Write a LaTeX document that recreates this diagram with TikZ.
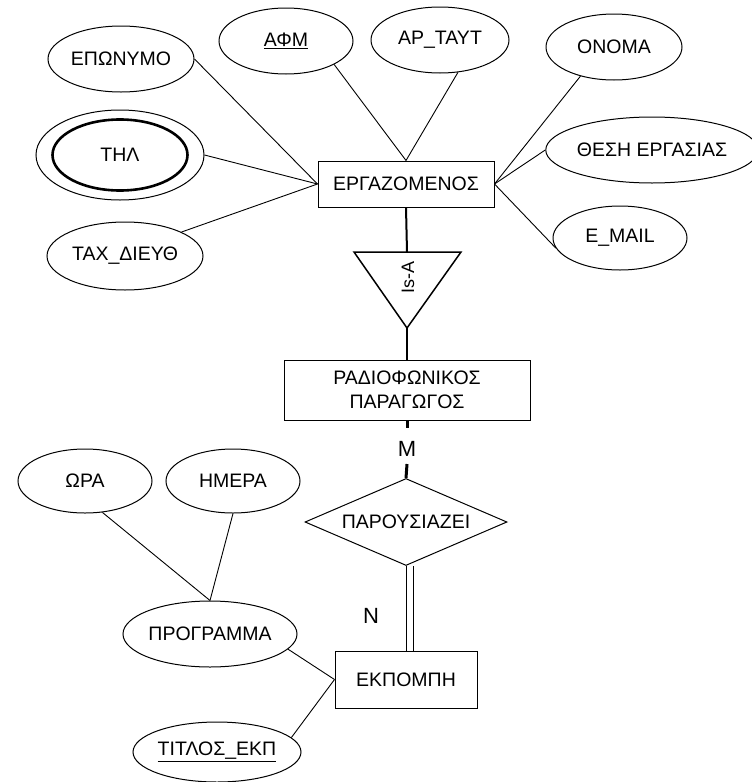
\documentclass[tikz,border=0pt]{standalone}
\usepackage{fontspec}
\setmainfont{Liberation Sans}
\usetikzlibrary{shapes.geometric}

\tikzset{
  erfont/.style={font=\fontsize{19.5}{23.5}\selectfont},
  attr/.style={ellipse, draw, line width=1pt, inner sep=0pt, erfont},
  entity/.style={rectangle, draw, line width=1pt, inner sep=0pt, erfont, align=center},
  rel/.style={diamond, draw, line width=1pt, inner sep=0pt, aspect=2.3, erfont},
  link/.style={line width=0.9pt},
  isalink/.style={line width=2pt},
  cardlink/.style={line width=3pt},
  card/.style={font=\fontsize{22}{24}\selectfont, inner sep=0pt},
}

\begin{document}
\begin{tikzpicture}[x=1pt, y=-1pt]
  \useasboundingbox (0,0) rectangle (752,782);

  % --- employee entity and its attributes ---
  \node[entity, minimum width=176, minimum height=46] (erg) at (406,184) {ΕΡΓΑΖΟΜΕΝΟΣ};

  \node[attr, minimum width=146, minimum height=66] (epon) at (121,59) {ΕΠΩΝΥΜΟ};
  \node[attr, minimum width=134, minimum height=66] (afm) at (286,41) {\underline{ΑΦΜ}};
  \node[attr, minimum width=138, minimum height=66] (artayt) at (440,40) {ΑΡ\_ΤΑΥΤ};
  \node[attr, minimum width=136, minimum height=66] (onoma) at (614,47) {ΟΝΟΜΑ};
  \node[attr, minimum width=198, minimum height=66] (thesi) at (652,150) {ΘΕΣΗ ΕΡΓΑΣΙΑΣ};
  \node[attr, minimum width=134, minimum height=64] (email) at (620,238) {E\_MAIL};
  \node[attr, minimum width=168, minimum height=90] (thl) at (120,155) {};
  \node[ellipse, draw, line width=2.6pt, inner sep=0pt, erfont,
        minimum width=135, minimum height=71] (thlin) at (120,155) {ΤΗΛ};
  \node[attr, minimum width=156, minimum height=68] (tax) at (125,256) {ΤΑΧ\_ΔΙΕΥΘ};

  \draw[link] (epon.east) -- (erg.west);
  \draw[link] (thl.east) -- (erg.west);
  \draw[link] (tax.23) -- (erg.west);
  \draw[link] (afm.-26) -- (erg.north);
  \draw[link] (artayt.-61) -- (erg.north);
  \draw[link] (onoma.-139) -- (erg.east);
  \draw[link] (thesi.west) -- (erg.east);
  \draw[link] (email.-171) -- (erg.east);

  % --- specialisation triangle ---
  \coordinate (tl) at (354,252);
  \coordinate (tr) at (461,252);
  \coordinate (ttop) at (407,252);
  \coordinate (tip) at (407,328);
  \draw[line width=1.5pt, line join=miter] (tl) -- (tr) -- (tip) -- cycle;
  \node[rotate=90, font=\fontsize{18}{20}\selectfont] (isa) at (408,277) {Is-A};

  \node[entity, minimum width=246, minimum height=60] (rad) at (407,390)
    {ΡΑΔΙΟΦΩΝΙΚΟΣ\\ΠΑΡΑΓΩΓΟΣ};

  \draw[isalink] (erg.south) -- (ttop);
  \draw[isalink] (tip) -- (rad.north);

  % --- relationship ---
  \node[rel, minimum width=202, minimum height=87] (dia) at (406,522) {ΠΑΡΟΥΣΙΑΖΕΙ};

  \coordinate (m1) at (407,428);
  \coordinate (m2) at (407,464);
  \draw[cardlink] (rad.south) -- (m1);
  \draw[cardlink] (m2) -- (dia.north);
  \node[card] (mlab) at (407,448.5) {M};

  \node[entity, minimum width=142, minimum height=57] (ekp) at (406,679.5) {ΕΚΠΟΜΠΗ};

  \draw[link] (dia.south) -- (dia.south |- ekp.north);
  \draw[link] ([xshift=7pt]dia.south) -- ([xshift=7pt]dia.south |- ekp.north);
  \node[card] (nlab) at (371,616) {N};

  % --- broadcast attributes ---
  \node[attr, minimum width=134, minimum height=64] (ora) at (85,481) {ΩΡΑ};
  \node[attr, minimum width=134, minimum height=64] (imera) at (233,481) {ΗΜΕΡΑ};
  \node[attr, minimum width=172, minimum height=66] (prog) at (210,634) {ΠΡΟΓΡΑΜΜΑ};
  \node[attr, minimum width=168, minimum height=60] (titlos) at (217,752) {\underline{ΤΙΤΛΟΣ\_ΕΚΠ}};

  \draw[link] (ora.-61) -- (prog.north);
  \draw[link] (imera.south) -- (prog.north);
  \draw[link] (prog.-11) -- (ekp.west);
  \draw[link] (titlos.11) -- (ekp.west);
\end{tikzpicture}
\end{document}
